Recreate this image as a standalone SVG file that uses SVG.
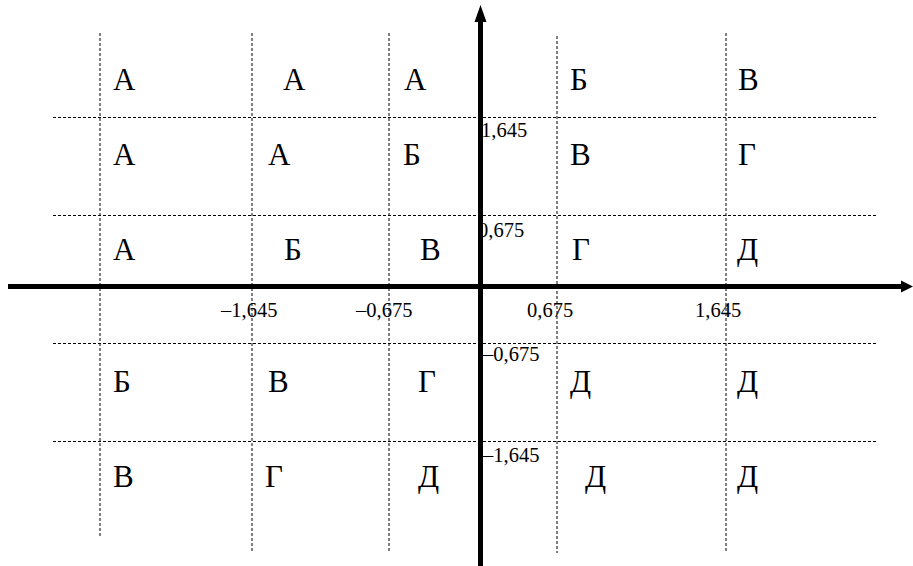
<svg xmlns="http://www.w3.org/2000/svg" width="913" height="566" viewBox="0 0 913 566">
<style>
.g{stroke:#000;stroke-width:1;stroke-dasharray:3,2;fill:none}
.ax{stroke:#000;stroke-width:5;fill:none}
.L{font-family:"Liberation Serif","Times New Roman",serif;font-size:31px;fill:#000}
.t{font-family:"Liberation Serif","Times New Roman",serif;font-size:20.5px;fill:#000}
</style>
<rect width="913" height="566" fill="#fff"/>
<g id="grid">
<line class="g" x1="100" y1="33" x2="100" y2="538"/>
<line class="g" x1="252" y1="33" x2="252" y2="553"/>
<line class="g" x1="389" y1="33" x2="389" y2="553"/>
<line class="g" x1="557" y1="36" x2="557" y2="553"/>
<line class="g" x1="726" y1="33" x2="726" y2="553"/>
<line class="g" x1="53" y1="117.5" x2="877" y2="117.5"/>
<line class="g" x1="53" y1="215.5" x2="877" y2="215.5"/>
<line class="g" x1="53" y1="343.5" x2="877" y2="343.5"/>
<line class="g" x1="53" y1="441.5" x2="877" y2="441.5"/>
</g>
<g id="ticklabels">
<text class="t" x="221" y="317">–1,645</text>
<text class="t" x="356" y="317">–0,675</text>
<text class="t" x="527" y="317">0,675</text>
<text class="t" x="695" y="317">1,645</text>
<text class="t" x="481" y="137">1,645</text>
<text class="t" x="478" y="237">0,675</text>
<text class="t" x="483" y="361">–0,675</text>
<text class="t" x="483" y="462">–1,645</text>
</g>
<g id="axes">
<line class="ax" x1="8" y1="286.5" x2="905" y2="286.5"/>
<polygon points="913,286.5 901,280.5 901,292.5" fill="#000"/>
<line class="ax" x1="480.5" y1="566" x2="480.5" y2="18"/>
<polygon points="480.5,5 474.5,22 486.5,22" fill="#000"/>
</g>
<g id="cells">
<text class="L" x="113" y="90">А</text>
<text class="L" x="283" y="90">А</text>
<text class="L" x="404" y="90">А</text>
<text class="L" x="570" y="90">Б</text>
<text class="L" x="738" y="90">В</text>
<text class="L" x="113" y="165">А</text>
<text class="L" x="268" y="165">А</text>
<text class="L" x="403" y="165">Б</text>
<text class="L" x="570" y="165">В</text>
<text class="L" x="738" y="165">Г</text>
<text class="L" x="113" y="260">А</text>
<text class="L" x="284" y="260">Б</text>
<text class="L" x="420" y="260">В</text>
<text class="L" x="572" y="260">Г</text>
<text class="L" x="737" y="260">Д</text>
<text class="L" x="113" y="392">Б</text>
<text class="L" x="268" y="392">В</text>
<text class="L" x="418" y="392">Г</text>
<text class="L" x="570" y="392">Д</text>
<text class="L" x="737" y="392">Д</text>
<text class="L" x="113" y="487">В</text>
<text class="L" x="265" y="487">Г</text>
<text class="L" x="418" y="487">Д</text>
<text class="L" x="585" y="487">Д</text>
<text class="L" x="737" y="487">Д</text>
</g>
</svg>
